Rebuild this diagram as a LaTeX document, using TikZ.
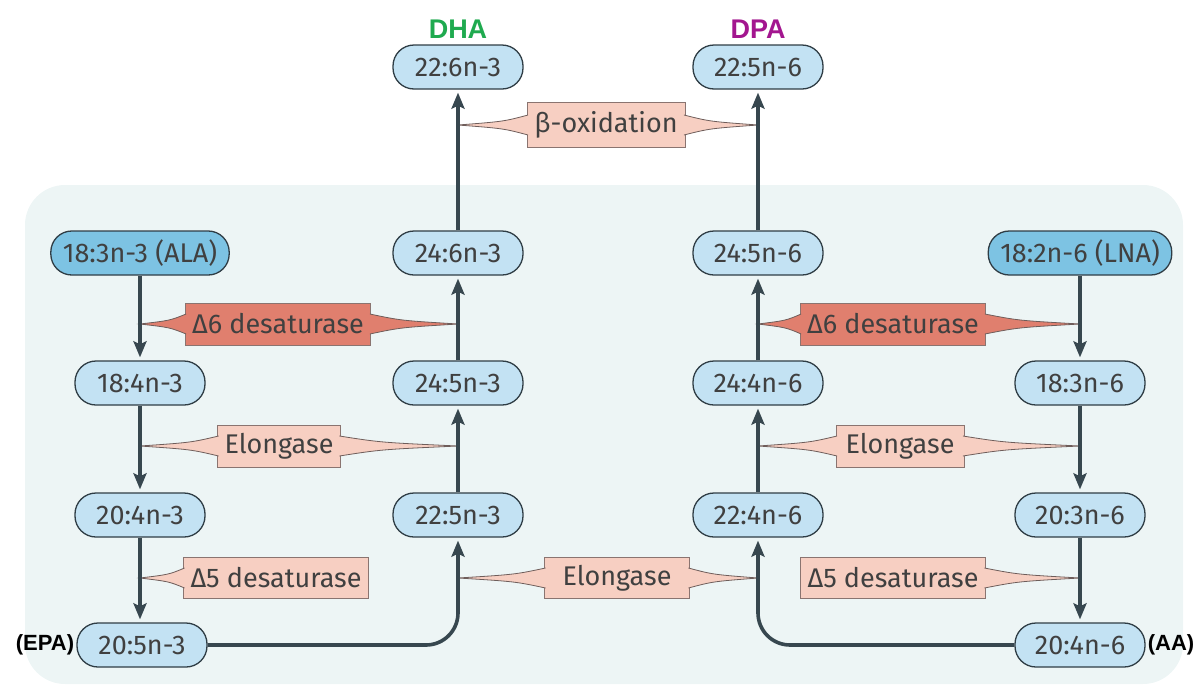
\documentclass[tikz,border=0pt]{standalone}
\usepackage{fontspec}
\setmainfont{Fira Sans}
\newfontfamily\tagfont{Liberation Sans}
\usetikzlibrary{positioning,arrows.meta,calc}
\definecolor{panel}{HTML}{EDF5F5}
\definecolor{acidfill}{HTML}{C3E2F3}
\definecolor{acidfirst}{HTML}{7DC3E3}
\definecolor{acidline}{HTML}{2F3D45}
\definecolor{flowline}{HTML}{37474F}
\definecolor{enzfill}{HTML}{F7CFC2}
\definecolor{enzdark}{HTML}{E07F6E}
\definecolor{enzline}{HTML}{8A7470}
\definecolor{dhagreen}{HTML}{1FAA4F}
\definecolor{dpapurple}{HTML}{A3168F}

% callout spike: #1 box anchor, #2 inward shift, #3 tip, #4 fill
\newcommand{\spike}[4]{%
  \coordinate (sb) at ($(#1)+(#2,0)$);
  \filldraw[spikeStyle, fill=#4] ($(sb)+(0,-10)$) .. controls ($(sb)!0.35!(#3)+(0,-3.5)$) .. (#3)
    .. controls ($(sb)!0.35!(#3)+(0,3.5)$) .. ($(sb)+(0,10)$);}

\begin{document}
\begin{tikzpicture}[x=1pt, y=-1pt,
    acidStyle/.style={rectangle, rounded corners=21pt, draw=acidline, fill=acidfill, line width=1.3pt,
        font=\fontsize{27}{30}\selectfont, text=black!75, minimum height=44pt, minimum width=130pt, inner xsep=12pt},
    firstStyle/.style={acidStyle, fill=acidfirst},
    enzStyle/.style={rectangle, draw=enzline, fill=enzfill, line width=0.9pt,
        font=\fontsize{27}{30}\selectfont, text=black!75, minimum height=42pt, inner xsep=7pt},
    darkStyle/.style={enzStyle, fill=enzdark},
    spikeStyle/.style={draw=enzline!80!black, line width=0.8pt},
    tagStyle/.style={font=\tagfont\bfseries\fontsize{27}{29}\selectfont, inner sep=2pt},
    flowStyle/.style={-{Stealth[length=16pt, width=13pt, inset=3pt]}, line width=3.6pt, draw=flowline, shorten >=3pt}
]
    \useasboundingbox (0,0) rectangle (1202,686);
    \fill[panel, rounded corners=40pt] (25,185) rectangle (1183,684);

    % n-3 series
    \node[firstStyle] (a183) at (140,253) {18:3n-3 (ALA)};
    \node[acidStyle] (a184) at (140,383) {18:4n-3};
    \node[acidStyle] (a204) at (140,515) {20:4n-3};
    \node[acidStyle] (a205) at (142,645) {20:5n-3};
    \node[acidStyle] (a225) at (458,515) {22:5n-3};
    \node[acidStyle] (a245) at (458,383) {24:5n-3};
    \node[acidStyle] (a246) at (458,253) {24:6n-3};
    \node[acidStyle] (a226) at (458,67) {22:6n-3};

    % n-6 series
    \node[firstStyle] (b182) at (1080,253) {18:2n-6 (LNA)};
    \node[acidStyle] (b183) at (1080,383) {18:3n-6};
    \node[acidStyle] (b203) at (1080,515) {20:3n-6};
    \node[acidStyle] (b204) at (1080,645) {20:4n-6};
    \node[acidStyle] (b224) at (758,515) {22:4n-6};
    \node[acidStyle] (b244) at (758,383) {24:4n-6};
    \node[acidStyle] (b245) at (758,253) {24:5n-6};
    \node[acidStyle] (b225) at (758,67) {22:5n-6};

    \node[tagStyle, text=dhagreen, anchor=south, yshift=4pt] (dha) at (a226.north) {DHA};
    \node[tagStyle, text=dpapurple, anchor=south, yshift=4pt] (dpa) at (b225.north) {DPA};
    \node[tagStyle, anchor=east, font=\tagfont\bfseries\fontsize{22}{24}\selectfont] (epa) at (a205.west) {(EPA)};
    \node[tagStyle, anchor=west, font=\tagfont\bfseries\fontsize{22}{24}\selectfont] (aa) at (b204.east) {(AA)};

    % enzymes
    \node[enzStyle, minimum width=158pt, minimum height=45pt] (beta) at (606,125) {β-oxidation};
    \node[darkStyle, minimum width=167pt] (d6a) at (278,324) {Δ6 desaturase};
    \node[darkStyle, minimum width=167pt] (d6b) at (893,324) {Δ6 desaturase};
    \node[enzStyle, minimum width=122pt] (ela) at (279,446) {Elongase};
    \node[enzStyle, minimum width=128pt] (elb) at (900,446) {Elongase};
    \node[enzStyle, minimum width=163pt, minimum height=41pt] (d5a) at (276,578) {Δ5 desaturase};
    \node[enzStyle, minimum width=145pt, minimum height=41pt] (elc) at (617,578) {Elongase};
    \node[enzStyle, minimum width=165pt, minimum height=41pt] (d5b) at (893,578) {Δ5 desaturase};

    \spike{beta.west}{1.5}{a226 |- beta.west}{enzfill}
    \spike{beta.east}{-1.5}{b225 |- beta.east}{enzfill}
    \spike{d6a.west}{1.5}{a183 |- d6a.west}{enzdark}
    \spike{d6a.east}{-1.5}{a246 |- d6a.east}{enzdark}
    \spike{d6b.west}{1.5}{b245 |- d6b.west}{enzdark}
    \spike{d6b.east}{-1.5}{b182 |- d6b.east}{enzdark}
    \spike{ela.west}{1.5}{a184 |- ela.west}{enzfill}
    \spike{ela.east}{-1.5}{a245 |- ela.east}{enzfill}
    \spike{elb.west}{1.5}{b244 |- elb.west}{enzfill}
    \spike{elb.east}{-1.5}{b183 |- elb.east}{enzfill}
    \spike{d5a.west}{1.5}{a204 |- d5a.west}{enzfill}
    \spike{elc.west}{1.5}{a225 |- elc.west}{enzfill}
    \spike{elc.east}{-1.5}{b224 |- elc.east}{enzfill}
    \spike{d5b.east}{-1.5}{b203 |- d5b.east}{enzfill}

    % pathway arrows
    \draw[flowStyle] (a183.south) -- (a184.north);
    \draw[flowStyle] (a184.south) -- (a204.north);
    \draw[flowStyle] (a204.south) -- (a204 |- a205.north);
    \draw[flowStyle, rounded corners=32pt] (a205.east) -| (a225.south);
    \draw[flowStyle] (a225.north) -- (a245.south);
    \draw[flowStyle] (a245.north) -- (a246.south);
    \draw[flowStyle] (a246.north) -- (a226.south);

    \draw[flowStyle] (b182.south) -- (b183.north);
    \draw[flowStyle] (b183.south) -- (b203.north);
    \draw[flowStyle] (b203.south) -- (b204.north);
    \draw[flowStyle, rounded corners=32pt] (b204.west) -| (b224.south);
    \draw[flowStyle] (b224.north) -- (b244.south);
    \draw[flowStyle] (b244.north) -- (b245.south);
    \draw[flowStyle] (b245.north) -- (b225.south);
\end{tikzpicture}
\end{document}
